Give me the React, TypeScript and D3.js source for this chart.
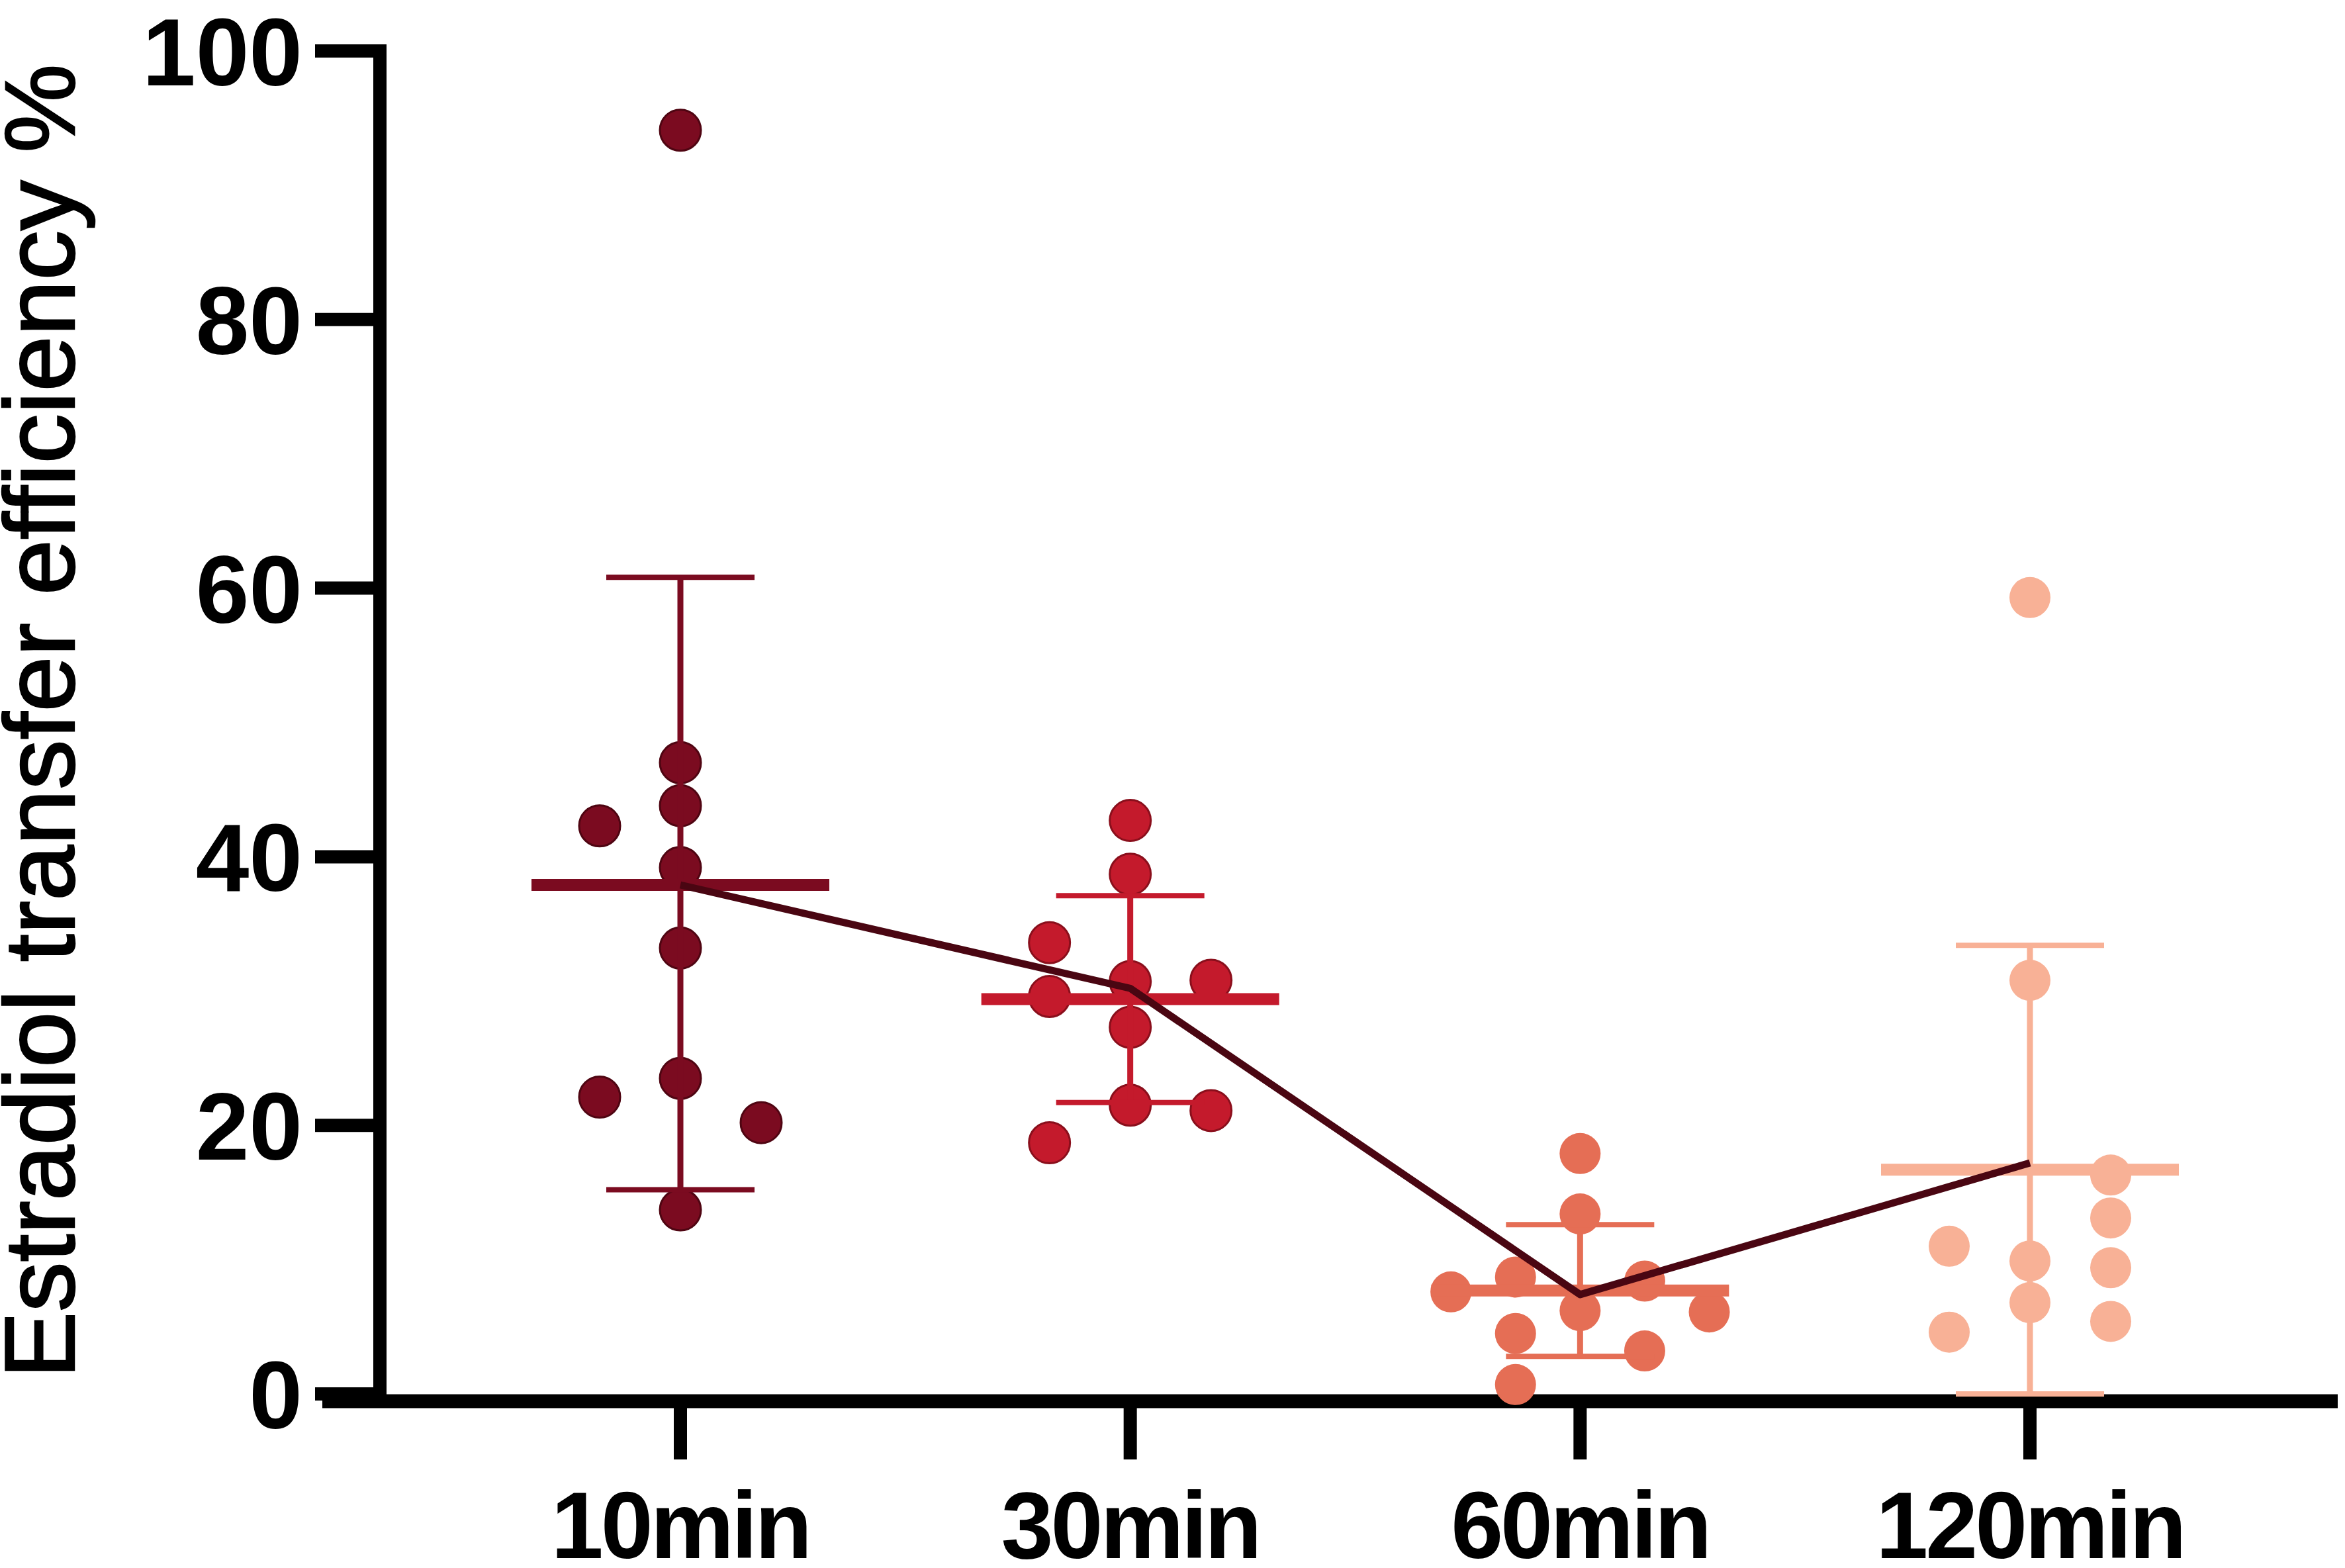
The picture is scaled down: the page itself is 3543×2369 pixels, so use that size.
import React from "react";
import * as d3 from "d3";

const categories = ["10min", "30min", "60min", "120min"];
const colors = ["#7b0b20", "#c41a2c", "#e56e55", "#f8b196"];
const dotStrokes = ["#4f0512", "#8a0f1c", "none", "none"];

const values10 = [94.1, 47.0, 43.8, 39.2, 33.2, 23.5, 13.7, 42.3, 22.1, 20.2];
const jitter10 = [0, 0, 0, 0, 0, 0, 0, -1, -1, 1];
const values30 = [42.7, 38.7, 30.7, 27.3, 21.5, 33.6, 29.6, 18.7, 30.8, 21.1];
const jitter30 = [0, 0, 0, 0, 0, -1, -1, -1, 1, 1];
const values60 = [17.9, 13.4, 6.2, 7.6, 8.7, 4.5, 0.7, 8.4, 3.2, 6.1];
const jitter60 = [0, 0, 0, -1.6, -0.8, -0.8, -0.8, 0.8, 0.8, 1.6];
const values120 = [59.3, 30.8, 9.9, 6.8, 11.0, 4.6, 16.3, 13.1, 9.4, 5.4];
const jitter120 = [0, 0, 0, 0, -1, -1, 1, 1, 1, 1];

const means = [37.9, 29.4, 7.7, 16.7];
const errTop = [60.8, 37.1, 12.6, 33.4];
const errBottom = [15.2, 21.7, 2.8, 0.0];
const trend = [37.9, 30.2, 7.4, 17.2];

const yTicks = [0, 20, 40, 60, 80, 100];
const yLabel = "Estradiol transfer efficiency %";

const groups = [
  { values: values10, jitter: jitter10 },
  { values: values30, jitter: jitter30 },
  { values: values60, jitter: jitter60 },
  { values: values120, jitter: jitter120 },
];

const W = 3543;
const H = 2369;
const axisX = 574;
const axisY = 2117;
const axisRight = 3532;
const tickLen = 88;
const axisW = 20;
const jitterStep = 122;
const dotR = 31;
const meanHalf = 225;
const capHalf = 112;

export default function App() {
  const y = d3.scaleLinear().domain([0, 100]).range([2106, 77]);
  const x = d3.scalePoint<string>().domain(categories).range([1028, 3067]);

  const line = d3
    .line<number>()
    .x((_, i) => x(categories[i]) as number)
    .y((d) => y(d));

  const tickFont = "'Liberation Sans', Arial, Helvetica, sans-serif";

  return (
    <svg
      width={W}
      height={H}
      viewBox={`0 0 ${W} ${H}`}
      style={{ position: "fixed", left: 0, top: 0, background: "#fff" }}
    >
      <rect x={0} y={0} width={W} height={H} fill="#fff" />

      {/* y axis label */}
      <text
        transform={`translate(112, ${(2082 + 97) / 2}) rotate(-90)`}
        textAnchor="middle"
        fontFamily={tickFont}
        fontSize={151}
        fill="#000"
        stroke="#000"
        strokeWidth={2.5}
      >
        {yLabel}
      </text>

      {/* y ticks */}
      {yTicks.map((t) => (
        <g key={t}>
          <line
            x1={axisX - tickLen - 10}
            x2={axisX}
            y1={y(t)}
            y2={y(t)}
            stroke="#000"
            strokeWidth={axisW}
          />
          <text
            x={457}
            y={y(t) + 52}
            textAnchor="end"
            fontFamily={tickFont}
            fontWeight="bold"
            fontSize={145}
            fill="#000"
          >
            {t}
          </text>
        </g>
      ))}

      {/* axes */}
      <line x1={axisX} x2={axisX} y1={67} y2={axisY + axisW / 2} stroke="#000" strokeWidth={axisW} />
      <line x1={487} x2={axisRight} y1={axisY} y2={axisY} stroke="#000" strokeWidth={axisW + 1} />

      {/* x ticks */}
      {categories.map((c) => (
        <g key={c}>
          <line
            x1={x(c)}
            x2={x(c)}
            y1={axisY}
            y2={axisY + tickLen}
            stroke="#000"
            strokeWidth={axisW}
          />
          <text
            x={x(c)}
            y={2354}
            textAnchor="middle"
            fontFamily={tickFont}
            fontWeight="bold"
            fontSize={142}
            letterSpacing={-4}
            fill="#000"
          >
            {c}
          </text>
        </g>
      ))}

      {/* dots */}
      {groups.map((g, gi) =>
        g.values.map((v, i) => (
          <circle
            key={`${gi}-${i}`}
            cx={(x(categories[gi]) as number) + g.jitter[i] * jitterStep}
            cy={y(v)}
            r={dotR}
            fill={colors[gi]}
            stroke={dotStrokes[gi]}
            strokeWidth={dotStrokes[gi] === "none" ? 0 : 3}
          />
        ))
      )}

      {/* error bars and means */}
      {categories.map((c, i) => {
        const cx = x(c) as number;
        return (
          <g key={c} stroke={colors[i]} fill="none">
            <line x1={cx} x2={cx} y1={y(errTop[i])} y2={y(errBottom[i])} strokeWidth={9} />
            <line x1={cx - capHalf} x2={cx + capHalf} y1={y(errTop[i])} y2={y(errTop[i])} strokeWidth={8} />
            <line x1={cx - capHalf} x2={cx + capHalf} y1={y(errBottom[i])} y2={y(errBottom[i])} strokeWidth={8} />
            <line x1={cx - meanHalf} x2={cx + meanHalf} y1={y(means[i])} y2={y(means[i])} strokeWidth={18} />
          </g>
        );
      })}

      {/* trend line */}
      <path d={line(trend) || ""} fill="none" stroke="#4a0612" strokeWidth={11} strokeLinejoin="round" />
    </svg>
  );
}
